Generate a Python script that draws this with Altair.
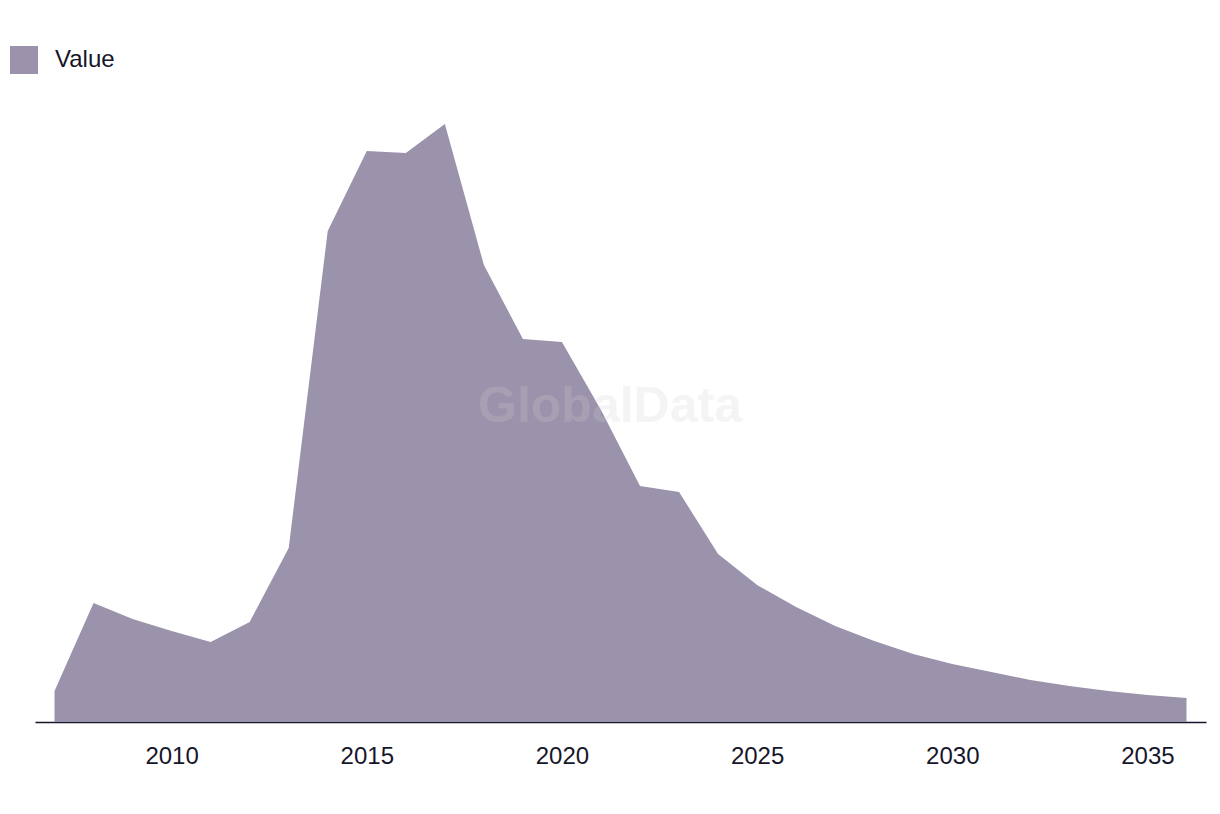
import altair as alt
import pandas as pd

years = list(range(2007, 2037))
values = [31, 119, 103, 91, 80, 100, 174, 491, 571, 569, 598, 457, 383, 380,
          312, 236, 230, 168, 137, 115, 96, 81, 68, 58, 50, 42, 36, 31, 27, 24]
series = ["Value"] * len(years)
tick_years = [2010, 2015, 2020, 2025, 2030, 2035]

df = pd.DataFrame({"year": years, "value": values, "series": series})

FONT = "Liberation Sans"
TEXT = "#16162a"
FILL = "#9b92ab"

area = alt.Chart(df).mark_area(opacity=1, interpolate="linear").encode(
    x=alt.X("year:Q",
            scale=alt.Scale(domain=[2006.5, 2036.5], nice=False, zero=False),
            axis=alt.Axis(values=tick_years, format="d", title=None, grid=False,
                          ticks=False, domainColor=TEXT, domainWidth=1.5,
                          labelFontSize=24, labelColor=TEXT, labelFont=FONT,
                          labelPadding=22)),
    y=alt.Y("value:Q", scale=alt.Scale(domain=[0, 620], nice=False), axis=None),
    color=alt.Color("series:N",
                    scale=alt.Scale(domain=["Value"], range=[FILL]),
                    legend=alt.Legend(title=None, orient="none", legendX=-25,
                                      legendY=-56, symbolType="square",
                                      symbolSize=784, symbolOpacity=1,
                                      symbolStrokeWidth=0,
                                      labelFontSize=24, labelFont=FONT,
                                      labelColor=TEXT, labelOffset=17,
                                      padding=0)),
)

watermark = alt.Chart(pd.DataFrame({"t": ["GlobalData"]})).mark_text(
    fontSize=50, fontWeight="bold", font=FONT, color="#d1d1d1", opacity=0.22,
    align="center", baseline="middle"
).encode(x=alt.value(575), y=alt.value(305), text="t:N")

chart = alt.layer(area, watermark).properties(
    width=1171, height=620,
    autosize=alt.AutoSizeParams(type="none"),
    padding={"left": 27, "top": 94, "right": 6, "bottom": 70},
    background="white",
).configure_view(stroke=None)

chart.save("out.html", embed_options={"renderer": "svg", "actions": False})
